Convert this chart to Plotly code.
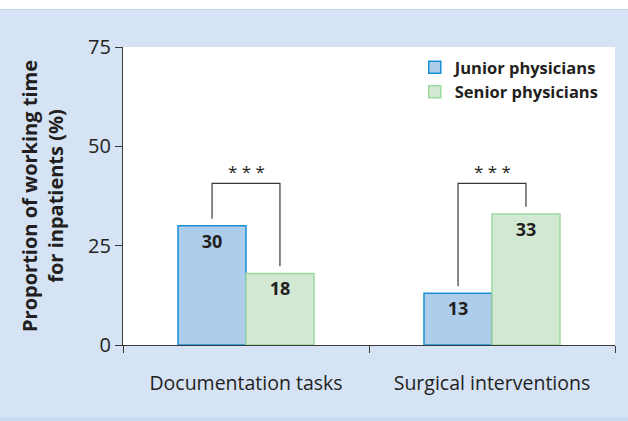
import plotly.graph_objects as go

categories = ["Documentation tasks", "Surgical interventions"]
junior = [30, 13]
senior = [18, 33]
series_names = ["Junior physicians", "Senior physicians"]
y_ticks = [0, 25, 50, 75]
sig_labels = ["* * *", "* * *"]
bracket_top = 40.7

FONT = "Open Sans"
TXT = "#231f20"
PANEL = "#d5e3f5"

fig = go.Figure()
fig.add_trace(go.Bar(
    x=categories, y=junior, name=series_names[0],
    marker=dict(color="#aecdeb", line=dict(color="#1b8fd6", width=1.5)),
    text=[str(v) for v in junior], textposition="inside", insidetextanchor="end",
    textfont=dict(family=FONT, size=18, color=TXT, weight="bold"),
))
fig.add_trace(go.Bar(
    x=categories, y=senior, name=series_names[1],
    marker=dict(color="#d2e8d2", line=dict(color="#9fd89f", width=1.5)),
    text=[str(v) for v in senior], textposition="inside", insidetextanchor="end",
    textfont=dict(family=FONT, size=18, color=TXT, weight="bold"),
))

# significance brackets
off = 0.138
for i, (j, s) in enumerate(zip(junior, senior)):
    xs = [i - off, i - off, i + off, i + off]
    ys = [j + 1.8, bracket_top, bracket_top, s + 1.8]
    fig.add_trace(go.Scatter(x=xs, y=ys, mode="lines", showlegend=False,
                             line=dict(color="#3a3a3a", width=1.2), hoverinfo="skip",
                             xaxis="x2"))
    fig.add_annotation(x=i, y=bracket_top, xref="x2", yref="y", text=sig_labels[i],
                       showarrow=False, yanchor="bottom", yshift=-2,
                       font=dict(family=FONT, size=17, color=TXT))

# background decorations
fig.add_shape(type="rect", xref="paper", yref="paper", x0=-0.3, x1=1.1,
              y0=1 + (47 - 9.5) / 298, y1=1.2, fillcolor="white", line_width=0, layer="above")
fig.add_shape(type="line", xref="paper", yref="paper", x0=-0.3, x1=1.1,
              y0=1 + (47 - 9.5) / 298, y1=1 + (47 - 9.5) / 298,
              line=dict(color="#c3d6ee", width=1), layer="above")
fig.add_shape(type="rect", xref="paper", yref="paper", x0=-0.3, x1=1.1,
              y0=-0.3, y1=-(417 - 345) / 298, fillcolor="#c9dcf3", line_width=0, layer="above")

fig.update_layout(
    width=628, height=421,
    margin=dict(l=123, r=13, t=47, b=76),
    paper_bgcolor=PANEL, plot_bgcolor="white",
    barmode="group", bargap=0.447, bargroupgap=0,
    font=dict(family=FONT, color=TXT),
    showlegend=True,
    legend=dict(x=0.593, y=0.99, xanchor="left", yanchor="top",
                bgcolor="rgba(0,0,0,0)", tracegroupgap=0,
                font=dict(family=FONT, size=16.5, color=TXT, weight="bold"),
                itemwidth=30),
    xaxis=dict(type="category", range=[-0.5, 1.5], showline=True, linecolor="#3a3a3a",
               linewidth=1.2, ticks="outside", tickson="boundaries", ticklen=7,
               tickcolor="#3a3a3a", tickwidth=1.2, showgrid=False, ticklabelstandoff=20,
               tickfont=dict(family=FONT, size=19.5, color=TXT)),
    xaxis2=dict(overlaying="x", range=[-0.5, 1.5], visible=False),
    yaxis=dict(range=[0, 75], tickvals=y_ticks, showline=True, linecolor="#3a3a3a",
               linewidth=1.2, ticks="outside", ticklen=7, tickcolor="#3a3a3a",
               tickwidth=1.2, showgrid=False, zeroline=False,
               tickfont=dict(family=FONT, size=20, color=TXT),
               title=dict(text="<b>Proportion of working time<br>for inpatients (%)</b>",
                          font=dict(family=FONT, size=20, color=TXT), standoff=19)),
)

fig.write_html("out.html", config={"displayModeBar": False},
               post_script="document.body.style.margin='0';")
